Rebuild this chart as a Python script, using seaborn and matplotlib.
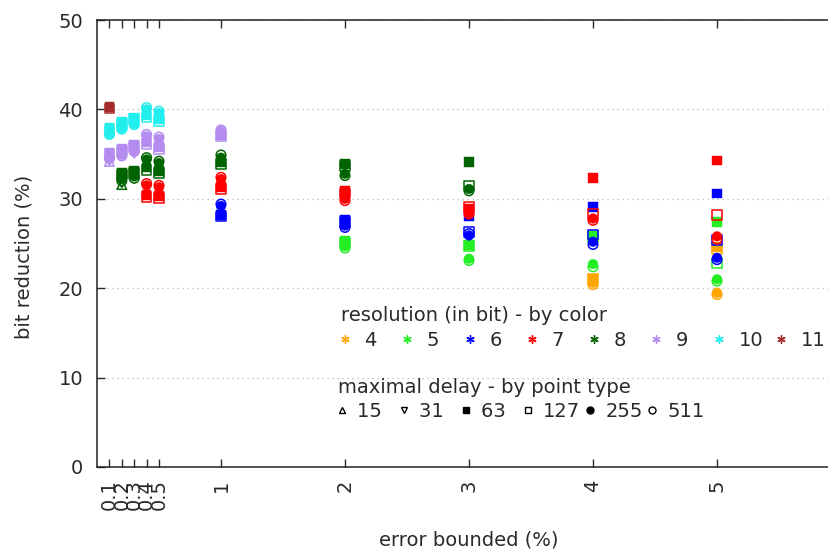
import numpy as np
import pandas as pd
import matplotlib
matplotlib.use("Agg")
import matplotlib.pyplot as plt
from matplotlib.lines import Line2D
import seaborn as sns

# ---------------- data ----------------
N = np.nan
DELAYS = [15, 31, 63, 127, 255, 511]          # columns of every table below
RESOLUTIONS = [4, 5, 6, 7, 8, 9, 10, 11]
X_TICKS = [0.1, 0.2, 0.3, 0.4, 0.5, 1, 2, 3, 4, 5]
X_TICK_LABELS = ["0.1", "0.2", "0.3", "0.4", "0.5", "1", "2", "3", "4", "5"]

# error bound -> bit reduction for delays 15, 31, 63, 127, 255, 511
res_4 = {4: [N, N, 21.1, 21.0, 20.6, 20.4],
         5: [N, N, 24.6, 24.4, 19.5, 19.3]}
res_5 = {2: [N, N, 25.3, 25.1, 24.7, 24.5],
         3: [N, N, 24.8, 24.7, 23.3, 23.1],
         4: [N, N, 25.9, 25.7, 22.7, 22.4],
         5: [N, N, 27.4, 22.8, 21.0, 20.8]}
res_6 = {1: [N, N, 28.2, 28.0, 29.2, 29.4],
         2: [N, N, 27.6, 27.4, 27.0, 26.8],
         3: [N, N, 28.1, 26.3, 25.9, 26.1],
         4: [N, N, 29.1, 26.0, 25.2, 24.9],
         5: [N, N, 30.6, 25.4, 23.4, 23.2]}
res_7 = {0.4: [N, N, 30.4, 30.2, 31.5, 31.7],
         0.5: [N, N, 30.3, 30.1, 31.3, 31.5],
         1: [N, N, 31.3, 31.1, 32.2, 32.4],
         2: [N, N, 30.9, 30.6, 30.0, 29.8],
         3: [N, N, 28.9, 29.1, 28.4, 28.3],
         4: [N, N, 32.3, 28.3, 27.8, 27.6],
         5: [N, N, 34.3, 28.2, 25.8, 25.5]}
res_8 = {0.2: [31.6, 31.8, 32.9, 32.7, 32.2, 32.0],
         0.3: [N, N, 33.1, 32.9, 32.5, 32.3],
         0.4: [N, N, 33.5, 33.2, 34.4, 34.6],
         0.5: [N, N, 33.1, 32.9, 34.0, 34.2],
         1: [N, N, 34.1, 33.9, 34.6, 34.9],
         2: [N, N, 33.9, 33.7, 32.8, 32.6],
         3: [N, N, 34.1, 31.5, 31.1, 30.9]}
res_9 = {0.1: [34.2, 34.3, 35.2, 35.0, 34.6, 34.5],
         0.2: [N, N, 35.6, 35.4, 34.9, 34.8],
         0.3: [N, 35.1, 36.0, 35.8, 35.4, 35.3],
         0.4: [N, N, 36.3, 36.1, 37.0, 37.2],
         0.5: [N, N, 35.8, 35.6, 36.7, 36.9],
         1: [N, N, 37.1, 37.0, 37.6, 37.7]}
res_10 = {0.1: [N, N, 37.9, 37.7, 37.3, 37.2],
          0.2: [N, N, 38.6, 38.4, 37.9, 37.8],
          0.3: [N, N, 39.1, 38.9, 38.4, 38.3],
          0.4: [N, N, 39.3, 39.1, 40.0, 40.2],
          0.5: [N, N, 38.9, 38.7, 39.6, 39.8]}
res_11 = {0.1: [N, N, 40.3, 40.1, N, N]}

TABLES = {4: res_4, 5: res_5, 6: res_6, 7: res_7,
          8: res_8, 9: res_9, 10: res_10, 11: res_11}

# ---------------- styles ----------------
COLORS = {4: "#ffa500", 5: "#22ee22", 6: "#0000ff", 7: "#ff0000",
          8: "#006400", 9: "#b48cf0", 10: "#22eeee", 11: "#a52a2a"}
MARKERS = {15: "^", 31: "v", 63: "s", 127: "s", 255: "o", 511: "o"}
OPEN = {15, 31, 127, 511}
TEXT = "#2a2a2a"
FIG_SPACE = "\u2007"   # digit-wide blank, keeps legend columns even


def to_long():
    rows = []
    for res, table in TABLES.items():
        for bound, vals in table.items():
            for d, v in zip(DELAYS, vals):
                if not np.isnan(v):
                    rows.append({"bound": bound, "resolution": res,
                                 "delay": d, "reduction": v})
    return pd.DataFrame(rows)


def padded(labels, width):
    # trailing figure spaces so every legend column gets the same width
    return [s + FIG_SPACE * (width - len(s)) for s in labels]


sns.set_style("ticks")
plt.rcParams["font.family"] = ["DejaVu Sans"]

df = to_long()

fig = plt.figure(figsize=(8.29, 5.59), dpi=100)
ax = fig.add_axes([97 / 829, 92 / 559, 744 / 829, 447 / 559])

for d in DELAYS:
    sub = df[df["delay"] == d]
    sns.scatterplot(data=sub, x="bound", y="reduction", hue="resolution",
                    palette=COLORS, marker=MARKERS[d], s=48,
                    edgecolor="face", linewidth=0.3, legend=False, ax=ax)
    coll = ax.collections[-1]
    if d in OPEN:
        fc = coll.get_facecolors()
        coll.set_facecolors("none")
        coll.set_edgecolors(fc)
        coll.set_linewidths(1.1)

ax.set_xlim(0, 6)
ax.set_ylim(0, 50)
ax.set_xticks(X_TICKS)
ax.set_xticklabels(X_TICK_LABELS, rotation=90)
ax.set_yticks(range(0, 51, 10))
ax.tick_params(direction="in", top=True, right=True, length=6, width=1,
               labelsize=14, colors=TEXT)
ax.tick_params(axis="y", pad=10)
ax.tick_params(axis="x", pad=9)
for sp in ax.spines.values():
    sp.set_color("#222222")
    sp.set_linewidth(1.1)

ax.yaxis.grid(True, linestyle=(0, (1, 3)), color="#b8b8b8", linewidth=0.9)
ax.set_axisbelow(True)

ax.set_xlabel("error bounded (%)", fontsize=14, color=TEXT)
ax.set_ylabel("bit reduction (%)", fontsize=14, color=TEXT)
ax.xaxis.set_label_coords(0.5, -0.141)
ax.yaxis.set_label_coords(-0.085, 0.47)

# legend 1: colours
res_handles = [Line2D([], [], linestyle="none", marker=(6, 2, 0), markersize=6,
                      markeredgewidth=1.0, color=COLORS[r]) for r in RESOLUTIONS]
leg1 = ax.legend(res_handles, padded([str(r) for r in RESOLUTIONS], 2),
                 title="resolution (in bit) - by color", ncol=8,
                 loc="upper left", bbox_to_anchor=(0.328, 0.360),
                 frameon=False, fontsize=14, title_fontsize=14,
                 handlelength=0.4, handletextpad=0.83, columnspacing=0.70,
                 labelspacing=0.3, borderpad=0, borderaxespad=0,
                 alignment="left", labelcolor=TEXT)
leg1.get_title().set_color(TEXT)
ax.add_artist(leg1)

# legend 2: point types
delay_handles = []
for d in DELAYS:
    delay_handles.append(Line2D([], [], linestyle="none", marker=MARKERS[d],
                                markersize=5, markeredgewidth=1.0,
                                color="black",
                                markerfacecolor="none" if d in OPEN else "black"))
leg2 = ax.legend(delay_handles, padded([str(d) for d in DELAYS], 3),
                 title="maximal delay - by point type", ncol=6,
                 loc="upper left", bbox_to_anchor=(0.324, 0.199),
                 frameon=False, fontsize=14, title_fontsize=14,
                 handlelength=0.4, handletextpad=0.58, columnspacing=0.30,
                 labelspacing=0.25, borderpad=0, borderaxespad=0,
                 alignment="left", labelcolor=TEXT)
leg2.get_title().set_color(TEXT)

fig.savefig("out.png", dpi=100)
